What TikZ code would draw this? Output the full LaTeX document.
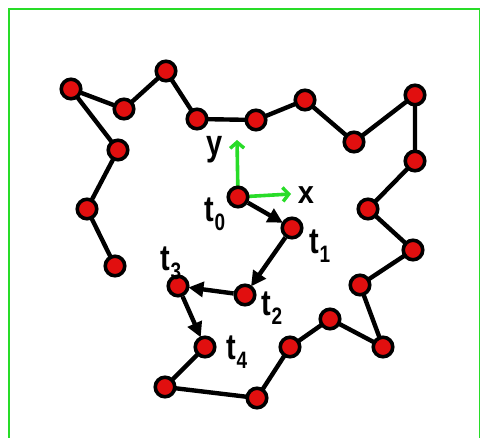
\documentclass[tikz,border=0pt]{standalone}
\usepackage{fontspec}
\usepackage{graphicx}
\setmainfont{Liberation Sans}
\usetikzlibrary{arrows.meta}
\definecolor{dotred}{RGB}{225,15,15}
\definecolor{axgreen}{RGB}{40,220,40}
\newcommand{\tlab}[1]{\scalebox{1}[1.25]{t\raisebox{-7pt}{\fontsize{19}{19}\selectfont\bfseries #1}}}
\begin{document}
\begin{tikzpicture}[x=1pt,y=-1pt,
  pt/.style={circle,fill=dotred,draw=black,line width=3.6pt,minimum size=19.5pt,inner sep=0pt},
  edge/.style={line width=4.4pt,black},
  step arrow/.style={line width=4.4pt,black,-{Triangle[length=15pt,width=15pt]},shorten >=-1pt},
  axis/.style={line width=3.6pt,axgreen,-{Straight Barb[length=6pt,width=14pt,line width=3.4pt]}},
  lab/.style={font=\fontsize{29}{29}\selectfont\bfseries,inner sep=0pt}]
\useasboundingbox (0,0) rectangle (481,438);
\draw[axgreen,line width=1.4pt] (9,460) -- (9,9) -- (479.5,9) -- (479.5,460);
% green axes (behind nodes)
\coordinate (v0) at (238,197);
\coordinate (yend) at (237,140);
\coordinate (xend) at (291,194);
\draw[axis] (v0) -- (yend);
\draw[axis] (v0) -- (xend);
% edges drawn first, nodes on top
\coordinate (A) at (71,89);
\coordinate (B) at (124,109);
\coordinate (C) at (166,71);
\coordinate (D) at (197,119);
\coordinate (E) at (256,120);
\coordinate (F) at (305,100);
\coordinate (G) at (354,142);
\coordinate (H) at (415,95);
\coordinate (I) at (415,161);
\coordinate (J) at (368,209);
\coordinate (K) at (413,250);
\coordinate (L) at (360,285);
\coordinate (M) at (383,347);
\coordinate (N) at (330,319);
\coordinate (O) at (290,347);
\coordinate (P) at (257,398);
\coordinate (Q) at (165,387);
\coordinate (R) at (205,347);
\coordinate (S) at (178,286);
\coordinate (T) at (245,295);
\coordinate (U) at (292,228);
\coordinate (V) at (238,197);
\coordinate (W1) at (118,150);
\coordinate (W2) at (87,209);
\coordinate (W3) at (115,266);
\draw[edge] (A) -- (B) (B) -- (C) (C) -- (D) (D) -- (E) (E) -- (F) (F) -- (G) (G) -- (H)
  (H) -- (I) (I) -- (J) (J) -- (K) (K) -- (L) (L) -- (M) (M) -- (N) (N) -- (O) (O) -- (P)
  (P) -- (Q) (Q) -- (R) (A) -- (W1) (W1) -- (W2) (W2) -- (W3);
\foreach \n in {A,B,C,D,E,F,G,H,I,J,K,L,M,N,O,P,Q,R,S,T,U,V,W1,W2,W3}
  \node[pt] (n\n) at (\n) {};
\draw[step arrow] (nV) -- (nU);
\draw[step arrow] (nU) -- (nT);
\draw[step arrow] (nT) -- (nS);
\draw[step arrow] (nS) -- (nR);
% labels
\node[lab] (ly) at (215,150) {\scalebox{1}[1.25]{y}};
\node[lab] (lx) at (306,195) {\scalebox{1}[1.1]{x}};
\node[lab] (l0) at (215,214) {\tlab{0}};
\node[lab] (l1) at (320,246) {\tlab{1}};
\node[lab] (l2) at (272,308) {\tlab{2}};
\node[lab] (l3) at (171,263) {\tlab{3}};
\node[lab] (l4) at (237,352) {\tlab{4}};
\end{tikzpicture}
\end{document}
